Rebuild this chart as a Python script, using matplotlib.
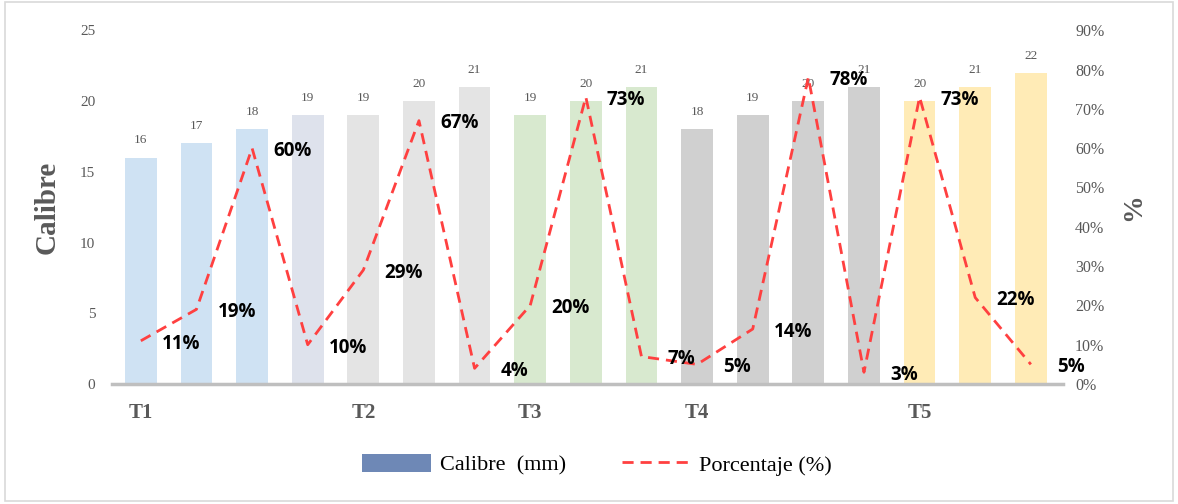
import numpy as np
import matplotlib.pyplot as plt
from matplotlib.patches import Patch
from matplotlib.lines import Line2D
from matplotlib.ticker import PercentFormatter

# calibre (mm) per sample and share of each calibre (%)
calibre = [16, 17, 18, 19, 19, 20, 21, 19, 20, 21, 18, 19, 20, 21, 20, 21, 22]
porcentaje = [11, 19, 60, 10, 29, 67, 4, 20, 73, 7, 5, 14, 78, 3, 73, 22, 5]
tratamientos = ["T1", "T2", "T3", "T4", "T5"]
pos_tratamientos = [0, 4, 7, 10, 14]

bar_colors = (["#cfe2f3"] * 3 + ["#dee2ec"] + ["#e4e4e4"] * 3
              + ["#d8e9cf"] * 3 + ["#d0d0d0"] * 4 + ["#ffebb6"] * 3)

serif = "Liberation Serif"
grey = "#595959"

fig = plt.figure(figsize=(11.78, 5.04), dpi=100)
ax = fig.add_axes([0.095, 0.238, 0.807, 0.702])
ax2 = ax.twinx()

x = np.arange(len(calibre))
bars = ax.bar(x, calibre, width=0.57, color=bar_colors, zorder=2)
for xi, v in zip(x, calibre):
    ax.annotate(str(v), (xi, v), xytext=(0, 8), textcoords="offset points",
                ha="center", va="bottom", fontsize=9.5, family=serif, color=grey)

ax.set_ylim(0, 25)
ax.set_yticks(range(0, 26, 5))
ax.set_xlim(-0.52, 16.57)
ax.set_xticks(pos_tratamientos)
ax.set_xticklabels(tratamientos, fontsize=15, fontweight="bold", family=serif, color=grey)
ax.tick_params(axis="x", length=0, pad=14)
ax.tick_params(axis="y", length=0, labelsize=11, labelcolor=grey, pad=12)
for lab in ax.get_yticklabels():
    lab.set_family(serif)
ax.set_ylabel("Calibre", fontsize=21, fontweight="bold", family=serif, color=grey, labelpad=14)

ax2.plot(x, porcentaje, color="#ff4040", linestyle=(0, (4, 2.5)), linewidth=2, zorder=3)
for xi, p in zip(x, porcentaje):
    ax2.annotate(f"{p}%", (xi, p), xytext=(29, -2), textcoords="offset points",
                 ha="center", va="center", fontsize=13.5, fontweight="bold",
                 family="Open Sans", color="black")
ax2.set_ylim(0, 90)
ax2.set_yticks(range(0, 91, 10))
ax2.yaxis.set_major_formatter(PercentFormatter(decimals=0))
ax2.tick_params(axis="y", length=0, labelsize=11.5, labelcolor=grey, pad=9)
for lab in ax2.get_yticklabels():
    lab.set_family(serif)
ax2.set_ylabel("%", fontsize=20, fontweight="bold", family=serif, color=grey, labelpad=12)

for a in (ax, ax2):
    for side in ("top", "left", "right", "bottom"):
        a.spines[side].set_visible(False)
ax.spines["bottom"].set_visible(True)
ax.spines["bottom"].set_color("#bfbfbf")
ax.spines["bottom"].set_linewidth(2.5)
ax.spines["bottom"].set_zorder(4)

handles = [Patch(facecolor="#6e88b6", edgecolor="none"),
           Line2D([0], [0], color="#ff4040", linestyle=(0, (4, 2.5)), linewidth=2)]
fig.legend(handles, ["Calibre  (mm)", "Porcentaje (%)"], loc="center",
           bbox_to_anchor=(0.507, 0.078), ncol=2, frameon=False,
           prop={"family": serif, "size": 16}, handlelength=3.1, handleheight=0.9,
           columnspacing=2.5, handletextpad=0.4)

# light frame around the whole figure
fig.add_artist(plt.Rectangle((0.004, 0.006), 0.992, 0.99, transform=fig.transFigure,
                             fill=False, edgecolor="#d9d9d9", linewidth=1.2))

fig.savefig("out.png", dpi=100, facecolor="white")
